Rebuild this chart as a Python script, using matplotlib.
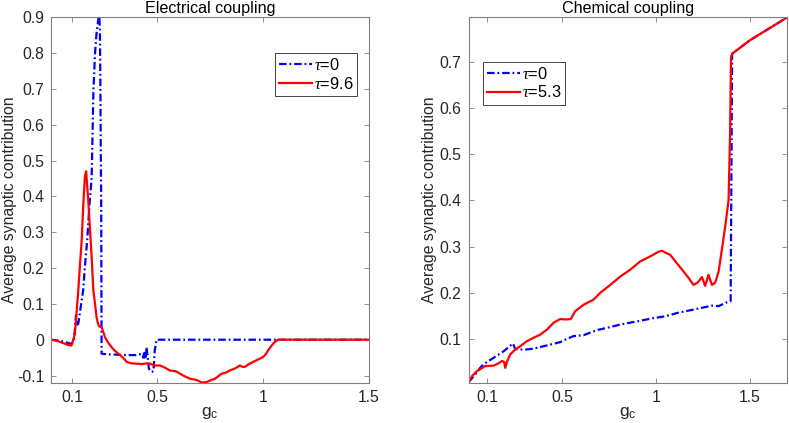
import matplotlib
matplotlib.use("Agg")
import matplotlib.pyplot as plt
from matplotlib.ticker import FixedLocator, FuncFormatter

plt.rcParams['font.family'] = ['Liberation Sans', 'DejaVu Sans']
plt.rcParams['mathtext.fontset'] = 'custom'
plt.rcParams['mathtext.rm'] = 'Liberation Sans'
plt.rcParams['mathtext.it'] = 'Liberation Serif:italic'
plt.rcParams['axes.unicode_minus'] = False

# ---------------- data: electrical coupling ----------------
elec_x_tau0 = [0, 0.03, 0.06, 0.09, 0.10, 0.108, 0.113, 0.118, 0.122, 0.129, 0.14, 0.152,
               0.16, 0.171, 0.181, 0.192, 0.197, 0.2, 0.208, 0.215, 0.223, 0.228, 0.231,
               0.233, 0.235, 0.237, 0.239, 0.25, 0.28, 0.32, 0.36, 0.40, 0.425, 0.432,
               0.436, 0.439, 0.442, 0.445, 0.448, 0.451, 0.456, 0.462, 0.467, 0.475,
               0.484, 0.49, 0.498, 0.6, 0.8, 1.0, 1.2, 1.5]
elec_y_tau0 = [0, -0.002, -0.005, -0.011, -0.01, 0.0, 0.03, 0.068, 0.04, 0.045, 0.09, 0.138,
               0.203, 0.277, 0.37, 0.454, 0.594, 0.687, 0.80, 0.855, 0.892, 0.91, 0.864,
               0.733, 0.547, 0.389, -0.039, -0.040, -0.041, -0.042, -0.043, -0.043, -0.040,
               -0.042, -0.050, -0.038, -0.050, -0.036, -0.048, -0.021, -0.045, -0.080,
               -0.086, -0.090, -0.088, -0.030, 0.0, 0.0, 0.0, 0.0, 0.0, 0.0]

elec_x_tau96 = [0, 0.02, 0.042, 0.06, 0.082, 0.097, 0.10, 0.113, 0.12, 0.129, 0.137, 0.145,
                0.152, 0.16, 0.166, 0.171, 0.176, 0.184, 0.192, 0.2, 0.208, 0.215, 0.222,
                0.228, 0.239, 0.245, 0.255, 0.27, 0.286, 0.30, 0.318, 0.34, 0.357, 0.38,
                0.404, 0.43, 0.451, 0.467, 0.49, 0.514, 0.535, 0.561, 0.59, 0.624, 0.656,
                0.685, 0.70, 0.715, 0.735, 0.755, 0.774, 0.79, 0.805, 0.825, 0.844, 0.87,
                0.892, 0.905, 0.915, 0.935, 0.954, 0.975, 1.0, 1.012, 1.025, 1.037, 1.049,
                1.06, 1.072, 1.2, 1.5]
elec_y_tau96 = [0, -0.002, -0.006, -0.010, -0.015, -0.016, -0.011, 0.016, 0.07, 0.138, 0.21,
                0.277, 0.37, 0.455, 0.47, 0.43, 0.389, 0.31, 0.231, 0.138, 0.10, 0.063, 0.045,
                0.037, 0.035, 0.025, 0.007, -0.008, -0.021, -0.03, -0.039, -0.05, -0.062,
                -0.066, -0.067, -0.068, -0.066, -0.067, -0.072, -0.072, -0.077, -0.086,
                -0.088, -0.100, -0.109, -0.112, -0.116, -0.120, -0.118, -0.113, -0.109,
                -0.102, -0.095, -0.092, -0.086, -0.080, -0.072, -0.076, -0.076, -0.068,
                -0.062, -0.056, -0.049, -0.042, -0.030, -0.020, -0.011, -0.005, 0.0, 0.0, 0.0]

# ---------------- data: chemical coupling ----------------
chem_x_tau0 = [0, 0.03, 0.062, 0.08, 0.134, 0.187, 0.237, 0.249, 0.27, 0.311, 0.35, 0.40,
               0.44, 0.489, 0.52, 0.56, 0.614, 0.685, 0.75, 0.809, 0.90, 0.987, 1.05, 1.112,
               1.218, 1.298, 1.334, 1.387, 1.398, 1.406, 1.5, 1.7]
chem_y_tau0 = [0.006, 0.02, 0.037, 0.045, 0.059, 0.073, 0.090, 0.078, 0.077, 0.077, 0.079,
               0.084, 0.088, 0.093, 0.099, 0.106, 0.108, 0.119, 0.125, 0.131, 0.138, 0.145,
               0.149, 0.156, 0.165, 0.172, 0.171, 0.181, 0.182, 0.718, 0.747, 0.797]

chem_x_tau53 = [0, 0.02, 0.045, 0.089, 0.134, 0.16, 0.178, 0.19, 0.196, 0.205, 0.222, 0.249,
                0.276, 0.311, 0.345, 0.382, 0.418, 0.454, 0.489, 0.52, 0.545, 0.569, 0.614,
                0.667, 0.703, 0.756, 0.809, 0.863, 0.916, 0.97, 1.014, 1.032, 1.05, 1.076,
                1.103, 1.139, 1.174, 1.2, 1.222, 1.245, 1.262, 1.28, 1.298, 1.316, 1.334,
                1.351, 1.369, 1.387, 1.395, 1.40, 1.406, 1.5, 1.7]
chem_y_tau53 = [0.006, 0.02, 0.03, 0.041, 0.042, 0.047, 0.052, 0.050, 0.037, 0.050, 0.066,
                0.077, 0.084, 0.095, 0.102, 0.109, 0.120, 0.135, 0.143, 0.142, 0.143, 0.160,
                0.174, 0.185, 0.200, 0.217, 0.235, 0.250, 0.268, 0.279, 0.289, 0.291, 0.287,
                0.282, 0.268, 0.250, 0.232, 0.217, 0.222, 0.234, 0.215, 0.239, 0.217, 0.222,
                0.246, 0.293, 0.343, 0.401, 0.545, 0.710, 0.718, 0.747, 0.797]

elec_xticks = [0.1, 0.5, 1, 1.5]
elec_yticks = [-0.1, 0, 0.1, 0.2, 0.3, 0.4, 0.5, 0.6, 0.7, 0.8, 0.9]
chem_xticks = [0.1, 0.5, 1, 1.5]
chem_yticks = [0.1, 0.2, 0.3, 0.4, 0.5, 0.6, 0.7]

titles = ["Electrical coupling", "Chemical coupling"]
ylabel = "Average synaptic contribution"
xlabel = r"$\mathrm{g}_\mathrm{c}$"
legend_elec = [r"$\tau$=0", r"$\tau$=9.6"]
legend_chem = [r"$\tau$=0", r"$\tau$=5.3"]

fig = plt.figure(figsize=(7.89, 4.23), dpi=100)
ax1 = fig.add_axes([0.0646, 0.0953, 0.4027, 0.8638])
ax2 = fig.add_axes([0.5938, 0.0953, 0.4040, 0.8638])

fmt = FuncFormatter(lambda v, p: ("%g" % round(v, 3)))
dash = (0, (3.4, 1.3, 0.8, 1.3))
FS = 11.3

def style(ax, xt, yt, xlim, ylim, title):
    ax.set_xlim(*xlim)
    ax.set_ylim(*ylim)
    ax.xaxis.set_major_locator(FixedLocator(xt))
    ax.yaxis.set_major_locator(FixedLocator(yt))
    ax.xaxis.set_major_formatter(fmt)
    ax.yaxis.set_major_formatter(fmt)
    ax.tick_params(direction='in', length=3.5, width=0.6, color='#808080',
                   top=True, right=True, labelsize=FS, labelcolor='#262626', pad=5)
    for s in ax.spines.values():
        s.set_color('#808080')
        s.set_linewidth(0.8)
    ax.set_title(title, fontsize=11.6, color='black', pad=3)
    ax.set_ylabel(ylabel, fontsize=FS, color='#262626')
    ax.set_xlabel(xlabel, fontsize=12.5, color='#262626', labelpad=0)

style(ax1, elec_xticks, elec_yticks, (0, 1.5), (-0.12, 0.9), titles[0])
style(ax2, chem_xticks, chem_yticks, (0, 1.7), (0.005, 0.797), titles[1])

l1, = ax1.plot(elec_x_tau0, elec_y_tau0, color='#0000ff', lw=1.6, linestyle=dash, zorder=1)
l2, = ax1.plot(elec_x_tau96, elec_y_tau96, color='#ff0000', lw=1.6, zorder=2)

r1, = ax2.plot(chem_x_tau0, chem_y_tau0, color='#0000ff', lw=1.6, linestyle=dash, zorder=1)
r2, = ax2.plot(chem_x_tau53, chem_y_tau53, color='#ff0000', lw=1.6, zorder=2)

leg_kw = dict(fontsize=11.8, frameon=True, fancybox=False, framealpha=1,
              edgecolor='#262626', borderaxespad=0, handlelength=2.0,
              handletextpad=0.1, borderpad=0.25, labelspacing=0.15)
lg1 = ax1.legend([l1, l2], legend_elec, loc='upper right', bbox_to_anchor=(0.964, 0.902), **leg_kw)
lg2 = ax2.legend([r1, r2], legend_chem, loc='upper left', bbox_to_anchor=(0.046, 0.878), **leg_kw)
for lg in (lg1, lg2):
    lg.get_frame().set_linewidth(0.6)

ax1.yaxis.set_label_coords(-0.106, 0.5)
ax2.yaxis.set_label_coords(-0.100, 0.5)

fig.savefig("out.png", dpi=100)
